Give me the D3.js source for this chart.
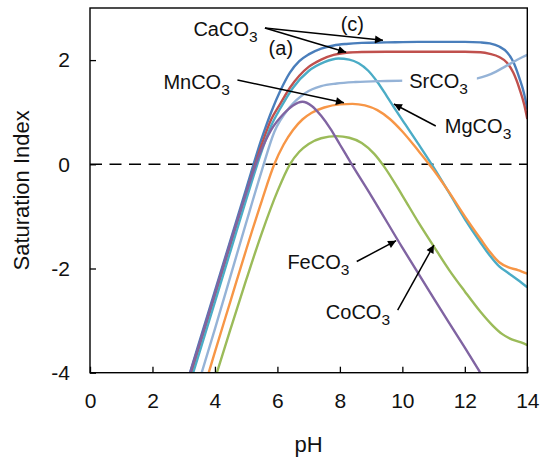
<!DOCTYPE html>
<html>
<head>
<meta charset="utf-8">
<script src="https://cdn.jsdelivr.net/npm/d3@7"></script>
<style>
  html, body { margin: 0; padding: 0; background: #ffffff; }
  svg { display: block; }
  text { font-family: "Liberation Sans", Arial, Helvetica, sans-serif; fill: #111; }
</style>
</head>
<body>
<svg id="chart" width="541" height="462"></svg>
<script>
// ---------------- data (pH, saturation index) ----------------
const xTicks = [0, 2, 4, 6, 8, 10, 12, 14];
const yTicks = [-4, -2, 0, 2];

const caco3_c = [[3.1,-4.2],[3.5,-3.41],[4,-2.43],[4.5,-1.45],[5,-0.47],[5.5,0.5],[5.8,1.0],[6.1,1.42],[6.4,1.76],[6.7,1.98],[7,2.11],[7.4,2.22],[7.8,2.28],[8.2,2.31],[8.7,2.33],[9.5,2.34],[10.5,2.35],[12,2.35],[12.5,2.34],[12.8,2.32],[13.1,2.26],[13.35,2.15],[13.55,1.97],[13.75,1.65],[13.9,1.35],[14,1.05]];
const caco3_a = [[3.15,-4.2],[3.5,-3.5],[4,-2.52],[4.5,-1.54],[5,-0.56],[5.5,0.38],[5.8,0.86],[6.1,1.17],[6.4,1.47],[6.7,1.7],[7,1.87],[7.4,2.01],[7.8,2.1],[8.2,2.14],[8.7,2.155],[9.5,2.16],[12,2.16],[12.5,2.15],[12.8,2.12],[13.1,2.06],[13.35,1.95],[13.55,1.76],[13.75,1.45],[13.9,1.15],[14,0.87]];
const mgco3 = [[3.2,-4.2],[3.5,-3.62],[4,-2.64],[4.5,-1.66],[5,-0.68],[5.5,0.26],[5.8,0.74],[6.1,1.08],[6.5,1.47],[7,1.79],[7.5,1.96],[7.95,2.03],[8.3,2.01],[8.6,1.94],[8.9,1.8],[9.2,1.58],[9.5,1.31],[9.8,1.03],[10.1,0.76],[10.5,0.4],[11,-0.06],[11.5,-0.55],[12,-1.05],[12.5,-1.5],[12.8,-1.75],[13.1,-1.96],[13.4,-2.09],[13.7,-2.22],[14,-2.36]];
const srco3 = [[3.5,-4.15],[4,-3.16],[4.5,-2.14],[5,-1.12],[5.5,-0.12],[5.9,0.62],[6.4,1.1],[6.9,1.37],[7.4,1.5],[7.9,1.55],[8.5,1.58],[9.5,1.6],[10.5,1.61],[11.5,1.62],[12.1,1.63],[12.4,1.65],[12.7,1.7],[13,1.78],[13.3,1.88],[13.6,1.98],[13.85,2.06],[14,2.1]];
const mnco3 = [[3.7,-4.2],[4,-3.6],[4.5,-2.62],[5,-1.64],[5.5,-0.7],[5.9,0],[6.2,0.38],[6.5,0.66],[6.8,0.86],[7.1,0.99],[7.5,1.09],[8,1.15],[8.4,1.16],[8.8,1.13],[9.2,1.04],[9.6,0.87],[10,0.63],[10.5,0.27],[11,-0.11],[11.5,-0.54],[12,-1.0],[12.5,-1.43],[12.8,-1.68],[13.1,-1.88],[13.4,-1.98],[13.7,-2.03],[14,-2.1]];
const coco3 = [[4.0,-4.12],[4.5,-3.16],[5,-2.22],[5.5,-1.32],[6,-0.52],[6.4,0.0],[6.7,0.24],[7,0.39],[7.4,0.5],[7.9,0.54],[8.3,0.51],[8.7,0.41],[9.1,0.2],[9.4,-0.03],[10,-0.6],[10.5,-1.1],[11,-1.57],[11.5,-2.03],[12,-2.44],[12.5,-2.83],[12.9,-3.1],[13.2,-3.26],[13.5,-3.36],[13.8,-3.42],[14,-3.47]];
const feco3 = [[3.1,-4.2],[3.5,-3.45],[4,-2.47],[4.5,-1.49],[5,-0.55],[5.4,0.15],[5.8,0.66],[6.2,0.97],[6.5,1.13],[6.8,1.2],[7.1,1.12],[7.4,0.93],[7.7,0.68],[8,0.38],[8.4,-0.02],[9,-0.6],[10,-1.6],[11,-2.57],[12,-3.52],[12.6,-4.1]];

// ---------------- layout ----------------
const svg = d3.select("#chart");
const x = d3.scaleLinear().domain([0, 14]).range([90, 527.3]);
const y = d3.scaleLinear().domain([-4, 3]).range([372.7, 8]);

const defs = svg.append("defs");
defs.append("clipPath").attr("id", "plotclip")
  .append("rect").attr("x", x(0)).attr("y", y(3))
  .attr("width", x(14) - x(0)).attr("height", y(-4) - y(3));

const marker = defs.append("marker")
  .attr("id", "arrow").attr("viewBox", "0 0 10 10")
  .attr("refX", 10).attr("refY", 5)
  .attr("markerWidth", 11).attr("markerHeight", 8)
  .attr("markerUnits", "userSpaceOnUse")
  .attr("orient", "auto");
marker.append("path").attr("d", "M0,0 L10,5 L0,10 Z").attr("fill", "#000");

// zero line
svg.append("line")
  .attr("x1", x(0)).attr("x2", x(14)).attr("y1", y(0)).attr("y2", y(0))
  .attr("stroke", "#000").attr("stroke-width", 1.4)
  .attr("stroke-dasharray", "12,7.5");

// series
const series = [
  { data: caco3_c, color: "#4a7ebb" },
  { data: caco3_a, color: "#c0504d" },
  { data: mgco3,   color: "#4bacc6" },
  { data: srco3,   color: "#95b3d7" },
  { data: mnco3,   color: "#f79646" },
  { data: coco3,   color: "#9bbb59" },
  { data: feco3,   color: "#8064a2" }
];

const line = d3.line()
  .x(d => x(d[0])).y(d => y(d[1]))
  .curve(d3.curveMonotoneX);

const g = svg.append("g").attr("clip-path", "url(#plotclip)");
series.forEach(s => {
  g.append("path").attr("d", line(s.data))
    .attr("fill", "none").attr("stroke", s.color)
    .attr("stroke-width", 2.4).attr("stroke-linejoin", "round");
});

// axes
const xAxis = d3.axisBottom(x).tickValues(xTicks).tickSizeInner(-6).tickSizeOuter(0).tickPadding(21).tickFormat(d => String(d));
const yAxis = d3.axisLeft(y).tickValues(yTicks).tickSizeInner(-6).tickSizeOuter(0).tickPadding(20).tickFormat(d => String(d));

const gx = svg.append("g").attr("transform", `translate(0,${y(-4)})`).call(xAxis);
const gy = svg.append("g").attr("transform", `translate(${x(0)},0)`).call(yAxis);
[gx, gy].forEach(a => {
  a.select(".domain").remove();
  a.selectAll(".tick line").attr("stroke", "#000").attr("stroke-width", 1.3);
  a.selectAll(".tick text").attr("font-size", 21).attr("fill", "#111")
    .attr("font-family", "'Liberation Sans', Arial, sans-serif");
});
gx.selectAll(".tick text").attr("dy", "0.7em");

// frame
svg.append("rect")
  .attr("x", x(0)).attr("y", y(3))
  .attr("width", x(14) - x(0)).attr("height", y(-4) - y(3))
  .attr("fill", "none").attr("stroke", "#000").attr("stroke-width", 1.4);

// axis titles
svg.append("text").attr("x", (x(0) + x(14)) / 2).attr("y", 451.5)
  .attr("text-anchor", "middle").attr("font-size", 22).text("pH");
svg.append("text")
  .attr("transform", `translate(28.5,${(y(-4) + y(3)) / 2}) rotate(-90)`)
  .attr("text-anchor", "middle").attr("font-size", 22).text("Saturation Index");

// annotations
const ann = svg.append("g");
function label(main, sub, px, py, bg) {
  const grp = ann.append("g");
  const t = grp.append("text").attr("x", x(px)).attr("y", y(py)).attr("font-size", 20);
  t.append("tspan").text(main);
  t.append("tspan").attr("dy", 6).attr("font-size", 15.5).text(sub);
  if (bg) {
    const b = t.node().getBBox();
    grp.insert("rect", () => t.node())
      .attr("x", b.x - 7).attr("y", b.y + 2)
      .attr("width", b.width + 16).attr("height", b.height - 4)
      .attr("fill", "#fff");
  }
  return t;
}
function plain(txt, px, py) {
  ann.append("text").attr("x", x(px)).attr("y", y(py))
    .attr("text-anchor", "middle").attr("font-size", 20).text(txt);
}
function arrow(p0, p1) {
  ann.append("line")
    .attr("x1", x(p0[0])).attr("y1", y(p0[1]))
    .attr("x2", x(p1[0])).attr("y2", y(p1[1]))
    .attr("stroke", "#000").attr("stroke-width", 1.5)
    .attr("marker-end", "url(#arrow)");
}

label("CaCO", "3", 3.31, 2.46);
label("MnCO", "3", 2.35, 1.44);
label("SrCO", "3", 10.22, 1.46, true);
label("MgCO", "3", 11.36, 0.595);
label("FeCO", "3", 6.32, -2.015);
label("CoCO", "3", 7.55, -2.975);
plain("(a)", 6.11, 2.10);
plain("(c)", 8.40, 2.56);

arrow([5.6, 2.615], [9.38, 2.38]);
arrow([5.6, 2.615], [8.2, 2.15]);
arrow([4.72, 1.62], [8.13, 1.18]);
arrow([11.07, 0.735], [9.73, 1.157]);
arrow([8.54, -1.866], [9.80, -1.466]);
arrow([9.85, -2.797], [11.01, -1.549]);
</script>
</body>
</html>
